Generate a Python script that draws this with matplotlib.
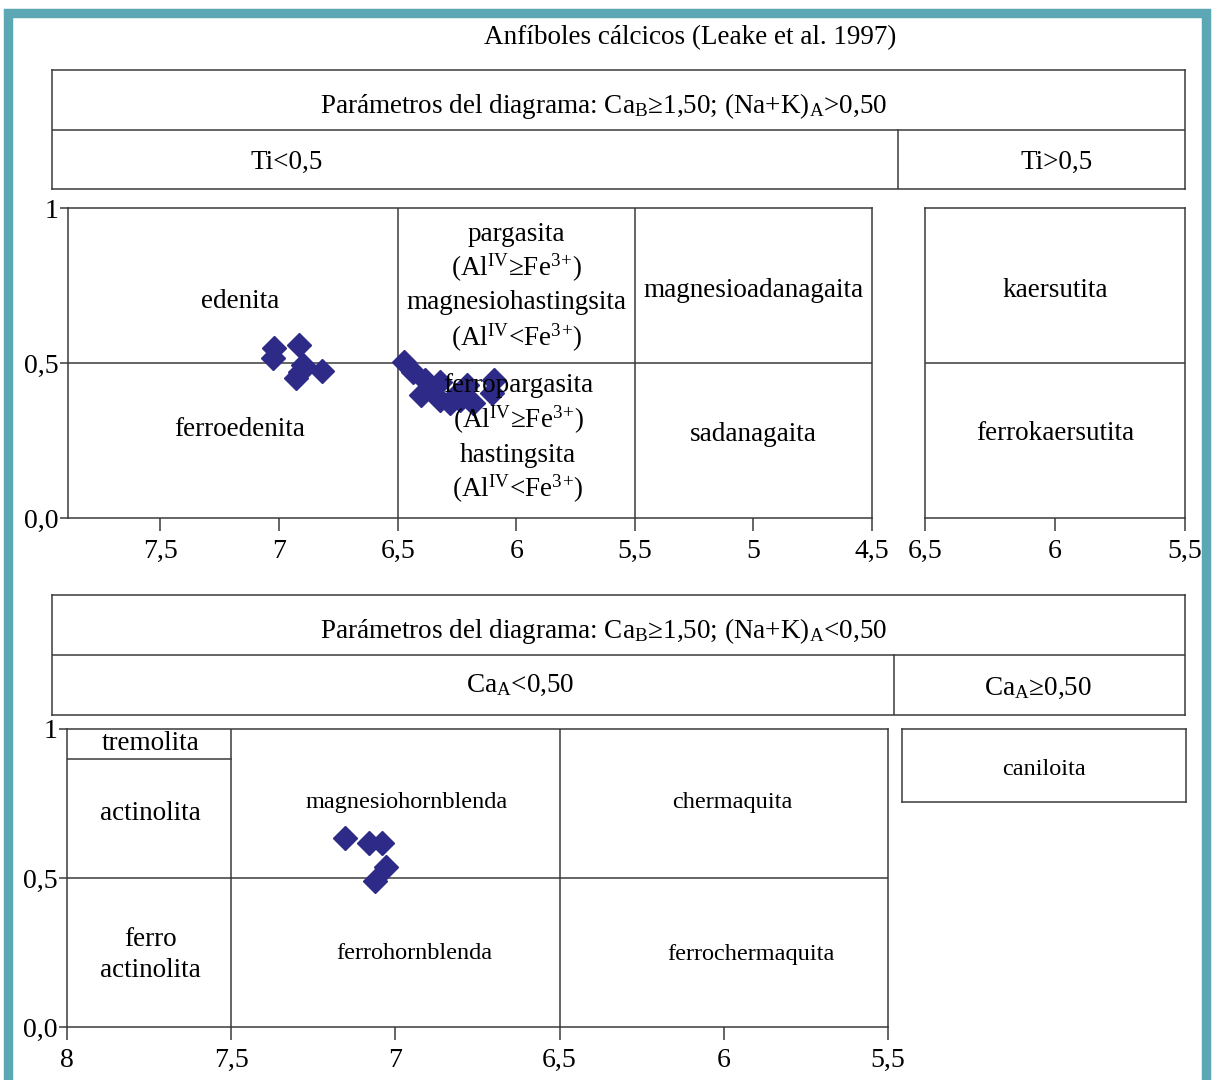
import matplotlib
matplotlib.use('Agg')
import matplotlib.pyplot as plt
from matplotlib.patches import Rectangle

plt.rcParams['font.family'] = ['Liberation Serif', 'DejaVu Serif']
plt.rcParams['mathtext.fontset'] = 'custom'
plt.rcParams['mathtext.rm'] = 'Liberation Serif'
plt.rcParams['mathtext.it'] = 'Liberation Serif:italic'

# datos: Ca_B>=1,50; (Na+K)_A>0,50 ; Ti<0,5  (Si vs Mg/(Mg+Fe2))
top_si = [7.02, 7.026, 6.916, 6.899, 6.912, 6.929, 6.819,
          6.473, 6.435, 6.385, 6.402, 6.322, 6.322, 6.360, 6.280,
          6.254, 6.208, 6.183, 6.094, 6.102, 6.237]
top_mg = [0.548, 0.516, 0.558, 0.494, 0.471, 0.452, 0.474,
          0.503, 0.471, 0.445, 0.397, 0.439, 0.381, 0.413, 0.371,
          0.397, 0.429, 0.371, 0.445, 0.403, 0.381]

# datos: Ca_B>=1,50; (Na+K)_A<0,50 ; Ca_A<0,50
bot_si = [7.152, 7.079, 7.040, 7.030, 7.061]
bot_mg = [0.634, 0.617, 0.617, 0.537, 0.490]

top_ticks = [7.5, 7, 6.5, 6, 5.5, 5, 4.5]
top_ticklabels = ['7,5', '7', '6,5', '6', '5,5', '5', '4,5']
ti_ticks = [6.5, 6, 5.5]
ti_ticklabels = ['6,5', '6', '5,5']
bot_ticks = [8, 7.5, 7, 6.5, 6, 5.5]
bot_ticklabels = ['8', '7,5', '7', '6,5', '6', '5,5']
y_ticks = [0, 0.5, 1]
y_ticklabels = ['0,0', '0,5', '1']

W, H = 1212, 1080
fig = plt.figure(figsize=(W / 100, H / 100), dpi=100)
fig.patch.set_facecolor('white')

LC = '#3a3a3a'
LW = 1.1
MC = '#2e2a88'
FS = 19.5
FT = 20


def px_axes(x0, y0, x1, y1):
    return fig.add_axes([x0 / W, 1 - y1 / H, (x1 - x0) / W, (y1 - y0) / H])


def box(ax):
    ax.set_xticks([])
    ax.set_yticks([])
    ax.set_facecolor('none')
    for s in ax.spines.values():
        s.set_color(LC)
        s.set_linewidth(LW)


# marco turquesa
fig.patches.append(Rectangle((7.5 / W, -0.01), 1198 / W, 1 - 13 / H + 0.01,
                             transform=fig.transFigure, fill=False,
                             edgecolor='#5ba8b4', linewidth=6.8))

fig.text(690 / W, 1 - 38 / H, 'Anfíboles cálcicos (Leake et al. 1997)',
         ha='center', va='center', fontsize=FS)

# cabecera superior
h1 = px_axes(52, 70, 1185, 189)
box(h1)
h1.set_xlim(52, 1185)
h1.set_ylim(189, 70)
h1.axhline(130, color=LC, lw=LW)
h1.plot([898, 898], [130, 189], color=LC, lw=LW)
h1.text(604, 106, r'Parámetros del diagrama: Ca$_\mathrm{B}$≥1,50; (Na+K)$_\mathrm{A}$>0,50',
        ha='center', va='center', fontsize=FS)
h1.text(287, 162, 'Ti<0,5', ha='center', va='center', fontsize=FS)
h1.text(1057, 162, 'Ti>0,5', ha='center', va='center', fontsize=FS)

# cabecera inferior
h2 = px_axes(52, 595, 1185, 715)
box(h2)
h2.set_xlim(52, 1185)
h2.set_ylim(715, 595)
h2.axhline(655, color=LC, lw=LW)
h2.plot([894, 894], [655, 715], color=LC, lw=LW)
h2.text(604, 631, r'Parámetros del diagrama: Ca$_\mathrm{B}$≥1,50; (Na+K)$_\mathrm{A}$<0,50',
        ha='center', va='center', fontsize=FS)
h2.text(520, 685, r'Ca$_\mathrm{A}$<0,50', ha='center', va='center', fontsize=FS)
h2.text(1038, 688, r'Ca$_\mathrm{A}$≥0,50', ha='center', va='center', fontsize=FS)


def diagram(ax, xlim, ticks, labels, ylabels=True):
    box(ax)
    ax.set_xlim(*xlim)
    ax.set_ylim(0, 1)
    ax.set_xticks(ticks)
    ax.set_xticklabels(labels, fontsize=FT)
    ax.tick_params(axis='x', direction='out', length=9, width=LW, color=LC, pad=6)
    if ylabels:
        ax.set_yticks(y_ticks)
        ax.set_yticklabels(y_ticklabels, fontsize=FT)
        ax.tick_params(axis='y', direction='out', length=6, width=LW, color=LC, pad=1)
    ax.axhline(0.5, color=LC, lw=LW)


# diagrama Ti<0,5
a1 = px_axes(68, 208, 872, 518)
diagram(a1, (7.89, 4.5), top_ticks, top_ticklabels)
a1.axvline(6.5, color=LC, lw=LW)
a1.axvline(5.5, color=LC, lw=LW)
a1.plot(top_si, top_mg, 'D', color=MC, ms=12.5, mec=MC, zorder=3)
sup_ge = r'(Al$^\mathrm{IV}$≥Fe$^\mathrm{3}$$^{+}$)'
sup_lt = r'(Al$^\mathrm{IV}$<Fe$^\mathrm{3}$$^{+}$)'
for x, y, s in [(7.165, 0.697, 'edenita'), (7.165, 0.284, 'ferroedenita'),
                (6.0, 0.913, 'pargasita'), (6.0, 0.806, sup_ge),
                (6.0, 0.694, 'magnesiohastingsita'), (6.0, 0.581, sup_lt),
                (5.993, 0.426, 'ferropargasita'), (5.993, 0.316, sup_ge),
                (5.993, 0.203, 'hastingsita'), (5.993, 0.094, sup_lt),
                (5.0, 0.735, 'magnesioadanagaita'), (5.0, 0.268, 'sadanagaita')]:
    a1.text(x, y, s, ha='center', va='center', fontsize=FS, zorder=4)

# diagrama Ti>0,5
a2 = px_axes(925, 208, 1185, 518)
diagram(a2, (6.5, 5.5), ti_ticks, ti_ticklabels, ylabels=False)
a2.text(6.0, 0.735, 'kaersutita', ha='center', va='center', fontsize=FS)
a2.text(6.0, 0.274, 'ferrokaersutita', ha='center', va='center', fontsize=FS)

# diagrama Ca_A<0,50
FS2 = 17.5
a3 = px_axes(67, 729, 888, 1027)
diagram(a3, (8, 5.5), bot_ticks, bot_ticklabels)
a3.axvline(7.5, color=LC, lw=LW)
a3.axvline(6.5, color=LC, lw=LW)
a3.plot([8, 7.5], [0.9, 0.9], color=LC, lw=LW)
a3.plot(bot_si, bot_mg, 'D', color=MC, ms=12.5, mec=MC, zorder=3)
for x, y, s, f in [(7.745, 0.95, 'tremolita', FS), (7.745, 0.715, 'actinolita', FS),
                   (7.745, 0.242, 'ferro\nactinolita', FS),
                   (6.966, 0.752, 'magnesiohornblenda', FS2),
                   (6.942, 0.245, 'ferrohornblenda', FS2),
                   (5.973, 0.752, 'chermaquita', FS2),
                   (5.918, 0.242, 'ferrochermaquita', FS2)]:
    a3.text(x, y, s, ha='center', va='center', fontsize=f, linespacing=1.3)

# caniloita
a4 = px_axes(902, 729, 1186, 802)
box(a4)
a4.text(0.5, 0.45, 'caniloita', ha='center', va='center', fontsize=FS2,
        transform=a4.transAxes)

fig.savefig('out.png', dpi=100)
